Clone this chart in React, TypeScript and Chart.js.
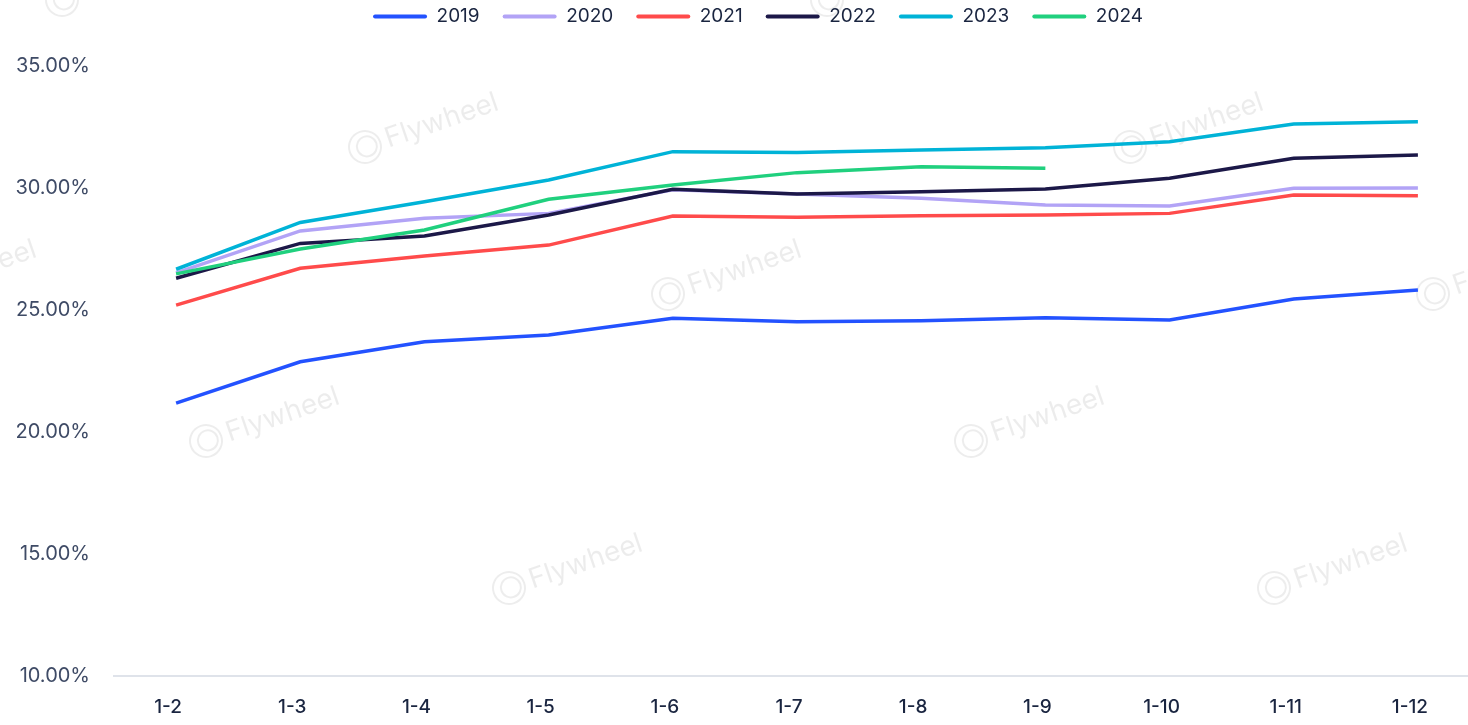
import React, { useEffect, useRef } from "react";
import { Chart, registerables } from "chart.js";
Chart.register(...registerables);

const categories = ["1-2", "1-3", "1-4", "1-5", "1-6", "1-7", "1-8", "1-9", "1-10", "1-11", "1-12"];
const seriesNames = ["2019", "2020", "2021", "2022", "2023", "2024"];
const values2019 = [21.18, 22.88, 23.7, 23.98, 24.66, 24.52, 24.56, 24.68, 24.59, 25.45, 25.82];
const values2020 = [26.52, 28.24, 28.76, 28.96, 29.93, 29.75, 29.58, 29.3, 29.26, 29.99, 30.0];
const values2021 = [25.2, 26.71, 27.21, 27.66, 28.85, 28.8, 28.86, 28.89, 28.96, 29.71, 29.68];
const values2022 = [26.3, 27.73, 28.03, 28.89, 29.95, 29.75, 29.85, 29.96, 30.4, 31.22, 31.35];
const values2023 = [26.67, 28.59, 29.44, 30.33, 31.49, 31.45, 31.56, 31.65, 31.9, 32.62, 32.72];
const values2024 = [26.48, 27.5, 28.28, 29.54, 30.12, 30.63, 30.87, 30.81, null, null, null];
const seriesValues = [values2019, values2020, values2021, values2022, values2023, values2024];
const seriesColors = ["#2352FF", "#B2A3F6", "#FF4B4B", "#1C1848", "#00B3D7", "#20D07E"];
const yMin = 10;
const yMax = 35;
const yStep = 5;

const PAD_TOP = -16;
const AREA_LEFT = 114;
const AREA_TOP = 66;
const AREA_BOTTOM = 676;
const CANVAS_W = 1480;
const CANVAS_H = 725;
const LEGEND_SHIFT = 18;

const watermarkPlugin = {
  id: "watermark",
  beforeDraw(chart: any) {
    const ctx = chart.ctx;
    ctx.save();
    const a = [303, 147];
    const b = [765, 0];
    const base = [365, 147];
    for (let i = -3; i <= 3; i++) {
      for (let j = -2; j <= 2; j++) {
        const x = base[0] + i * a[0] + j * b[0];
        const y = base[1] + i * a[1] + j * b[1];
        if (x < -250 || x > 1500 || y < -60 || y > 780) continue;
        ctx.save();
        ctx.translate(x, y);
        ctx.rotate(-0.33);
        ctx.strokeStyle = "rgba(0,0,0,0.07)";
        ctx.lineWidth = 2;
        ctx.beginPath();
        ctx.arc(0, 0, 16, 0, Math.PI * 2);
        ctx.stroke();
        ctx.beginPath();
        ctx.arc(2, 0, 10, 0, Math.PI * 2);
        ctx.stroke();
        ctx.fillStyle = "rgba(0,0,0,0.075)";
        ctx.font = "28px Inter";
        ctx.textBaseline = "middle";
        ctx.fillText("Flywheel", 22, 0);
        ctx.restore();
      }
    }
    ctx.restore();
  },
};

const legendHeightPlugin = {
  id: "legendHeight",
  beforeInit(chart: any) {
    const legend = chart.legend;
    if (!legend) return;
    const origFit = legend.fit;
    legend.fit = function () {
      origFit.bind(legend)();
      this.height = AREA_TOP - PAD_TOP;
      if (this.lineWidths && this.lineWidths.length) {
        this.lineWidths[0] -= LEGEND_SHIFT * 2;
      }
    };
  },
};

export default function App() {
  const ref = useRef<HTMLCanvasElement | null>(null);
  useEffect(() => {
    document.body.style.margin = "0";
    document.body.style.overflow = "hidden";
    if (!ref.current) return;
    Chart.defaults.font.family = "Inter";
    const chart = new Chart(ref.current, {
      type: "line",
      data: {
        labels: categories,
        datasets: seriesNames.map((name, i) => ({
          label: name,
          data: seriesValues[i],
          borderColor: seriesColors[i],
          backgroundColor: seriesColors[i],
          borderWidth: 3.5,
          pointRadius: 0,
          pointHoverRadius: 0,
          tension: 0,
          spanGaps: false,
          order: seriesNames.length - i,
        })),
      },
      options: {
        animation: false,
        responsive: false,
        devicePixelRatio: 1,
        layout: { padding: { left: 0, top: PAD_TOP, right: 0, bottom: 0 } },
        plugins: {
          tooltip: { enabled: false },
          legend: {
            position: "top",
            labels: {
              boxWidth: 54,
              boxHeight: 4,
              padding: 23,
              color: "#1A2540",
              font: { size: 19, family: "Inter" },
              useBorderRadius: true,
              borderRadius: 2,
              generateLabels: (c: any) => {
                const items = (Chart.defaults.plugins.legend.labels as any).generateLabels(c);
                return items
                  .sort((p: any, q: any) => p.datasetIndex - q.datasetIndex)
                  .map((it: any) => ({
                    ...it,
                    lineWidth: 0,
                    fillStyle: seriesColors[it.datasetIndex],
                    strokeStyle: seriesColors[it.datasetIndex],
                  }));
              },
            },
          },
        },
        scales: {
          x: {
            type: "category",
            offset: true,
            grid: { display: false, drawTicks: false },
            border: { display: true, color: "#DFE3EA", width: 2 },
            ticks: {
              color: "#1A2540",
              font: { size: 19, weight: 500, family: "Inter" },
              padding: 20,
              labelOffset: -8,
              maxRotation: 0,
              autoSkip: false,
            },
            afterFit: (scale: any) => {
              scale.height = CANVAS_H - AREA_BOTTOM;
            },
          },
          y: {
            min: yMin,
            max: yMax,
            grid: { display: false, drawTicks: false },
            border: { display: false },
            ticks: {
              stepSize: yStep,
              color: "#3F4B66",
              font: { size: 20, family: "Inter" },
              padding: 24,
              callback: (v: any) => Number(v).toFixed(2) + "%",
            },
            afterFit: (scale: any) => {
              scale.width = AREA_LEFT;
            },
          },
        },
      },
      plugins: [watermarkPlugin, legendHeightPlugin],
    } as any);
    return () => chart.destroy();
  }, []);
  return (
    <div style={{ width: 1468, height: CANVAS_H, overflow: "hidden", position: "relative" }}>
      <canvas
        ref={ref}
        width={CANVAS_W}
        height={CANVAS_H}
        style={{ position: "absolute", left: 0, top: 0, width: CANVAS_W, height: CANVAS_H }}
      />
    </div>
  );
}
